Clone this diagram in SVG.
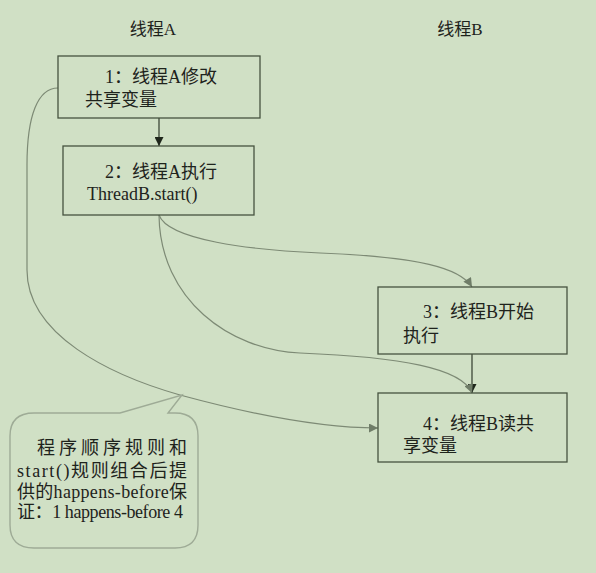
<svg xmlns="http://www.w3.org/2000/svg" width="596" height="573" viewBox="0 0 596 573">
<defs>
<style>
text{font-family:"Liberation Serif","Noto Sans CJK SC",serif;font-size:18px;fill:#1e231c}
.title{font-size:17px}
.box{fill:none;stroke:#46533f;stroke-width:1.3}
.link{fill:none;stroke:#7d8a75;stroke-width:1.2}
.dark{fill:none;stroke:#2f3a2b;stroke-width:1.2}
.callout{fill:none;stroke:#9eab96;stroke-width:1.4}
</style>
<marker id="ag" viewBox="0 0 10 10" refX="10" refY="5" markerWidth="10" markerHeight="9" markerUnits="userSpaceOnUse" orient="auto">
<path d="M0,0 L10,5 L0,10 Z" fill="#6f7d68"/>
</marker>
<marker id="ad" viewBox="0 0 10 10" refX="10" refY="5" markerWidth="10" markerHeight="9" markerUnits="userSpaceOnUse" orient="auto">
<path d="M0,0 L10,5 L0,10 Z" fill="#1e261b"/>
</marker>
</defs>
<rect width="596" height="573" fill="#d0e0c5"/>
<text class="title" x="153" y="35" text-anchor="middle">线程A</text>
<text class="title" x="460" y="35" text-anchor="middle">线程B</text>
<g id="connectors">
<line class="dark" x1="159" y1="118" x2="159" y2="146" marker-end="url(#ad)"/>
<line class="dark" x1="472" y1="354" x2="472" y2="393" marker-end="url(#ad)"/>
<path class="link" d="M58,88 C38,88 27,115 27,165 L27,270 C27,335 110,375 180,395 C250,414 320,428 378,428" marker-end="url(#ag)"/>
<path class="link" d="M159,215 C168,240 250,250 320,253 C420,257 460,268 472,287" marker-end="url(#ag)"/>
<path class="link" d="M159,215 C160,300 230,350 300,353 C400,357 462,368 472,393" marker-end="url(#ag)"/>
</g>
<g id="node1">
<rect class="box" x="58" y="56" width="202" height="62"/>
<text x="105" y="83">1：线程A修改</text>
<text x="85" y="106">共享变量</text>
</g>
<g id="node2">
<rect class="box" x="63" y="146" width="191" height="69"/>
<text x="105" y="178">2：线程A执行</text>
<text x="87" y="200">ThreadB.start()</text>
</g>
<g id="node3">
<rect class="box" x="378" y="287" width="189" height="67"/>
<text x="423" y="318">3：线程B开始</text>
<text x="403" y="342">执行</text>
</g>
<g id="node4">
<rect class="box" x="378" y="393" width="189" height="69"/>
<text x="423" y="430">4：线程B读共</text>
<text x="403" y="452">享变量</text>
</g>
<g id="note">
<path class="callout" d="M34,413 H120 L182,395 L168,413 H175 Q198,413 198,436 V525 Q198,548 175,548 H34 Q10,548 10,525 V436 Q10,413 34,413 Z"/>
<text x="37" y="454" textLength="150" lengthAdjust="spacing">程序顺序规则和</text>
<text x="17" y="477" textLength="170" lengthAdjust="spacing">start()规则组合后提</text>
<text x="17" y="498" textLength="170" lengthAdjust="spacing">供的happens-before保</text>
<text x="17" y="518" textLength="166" lengthAdjust="spacing">证：1 happens-before 4</text>
</g>
</svg>
